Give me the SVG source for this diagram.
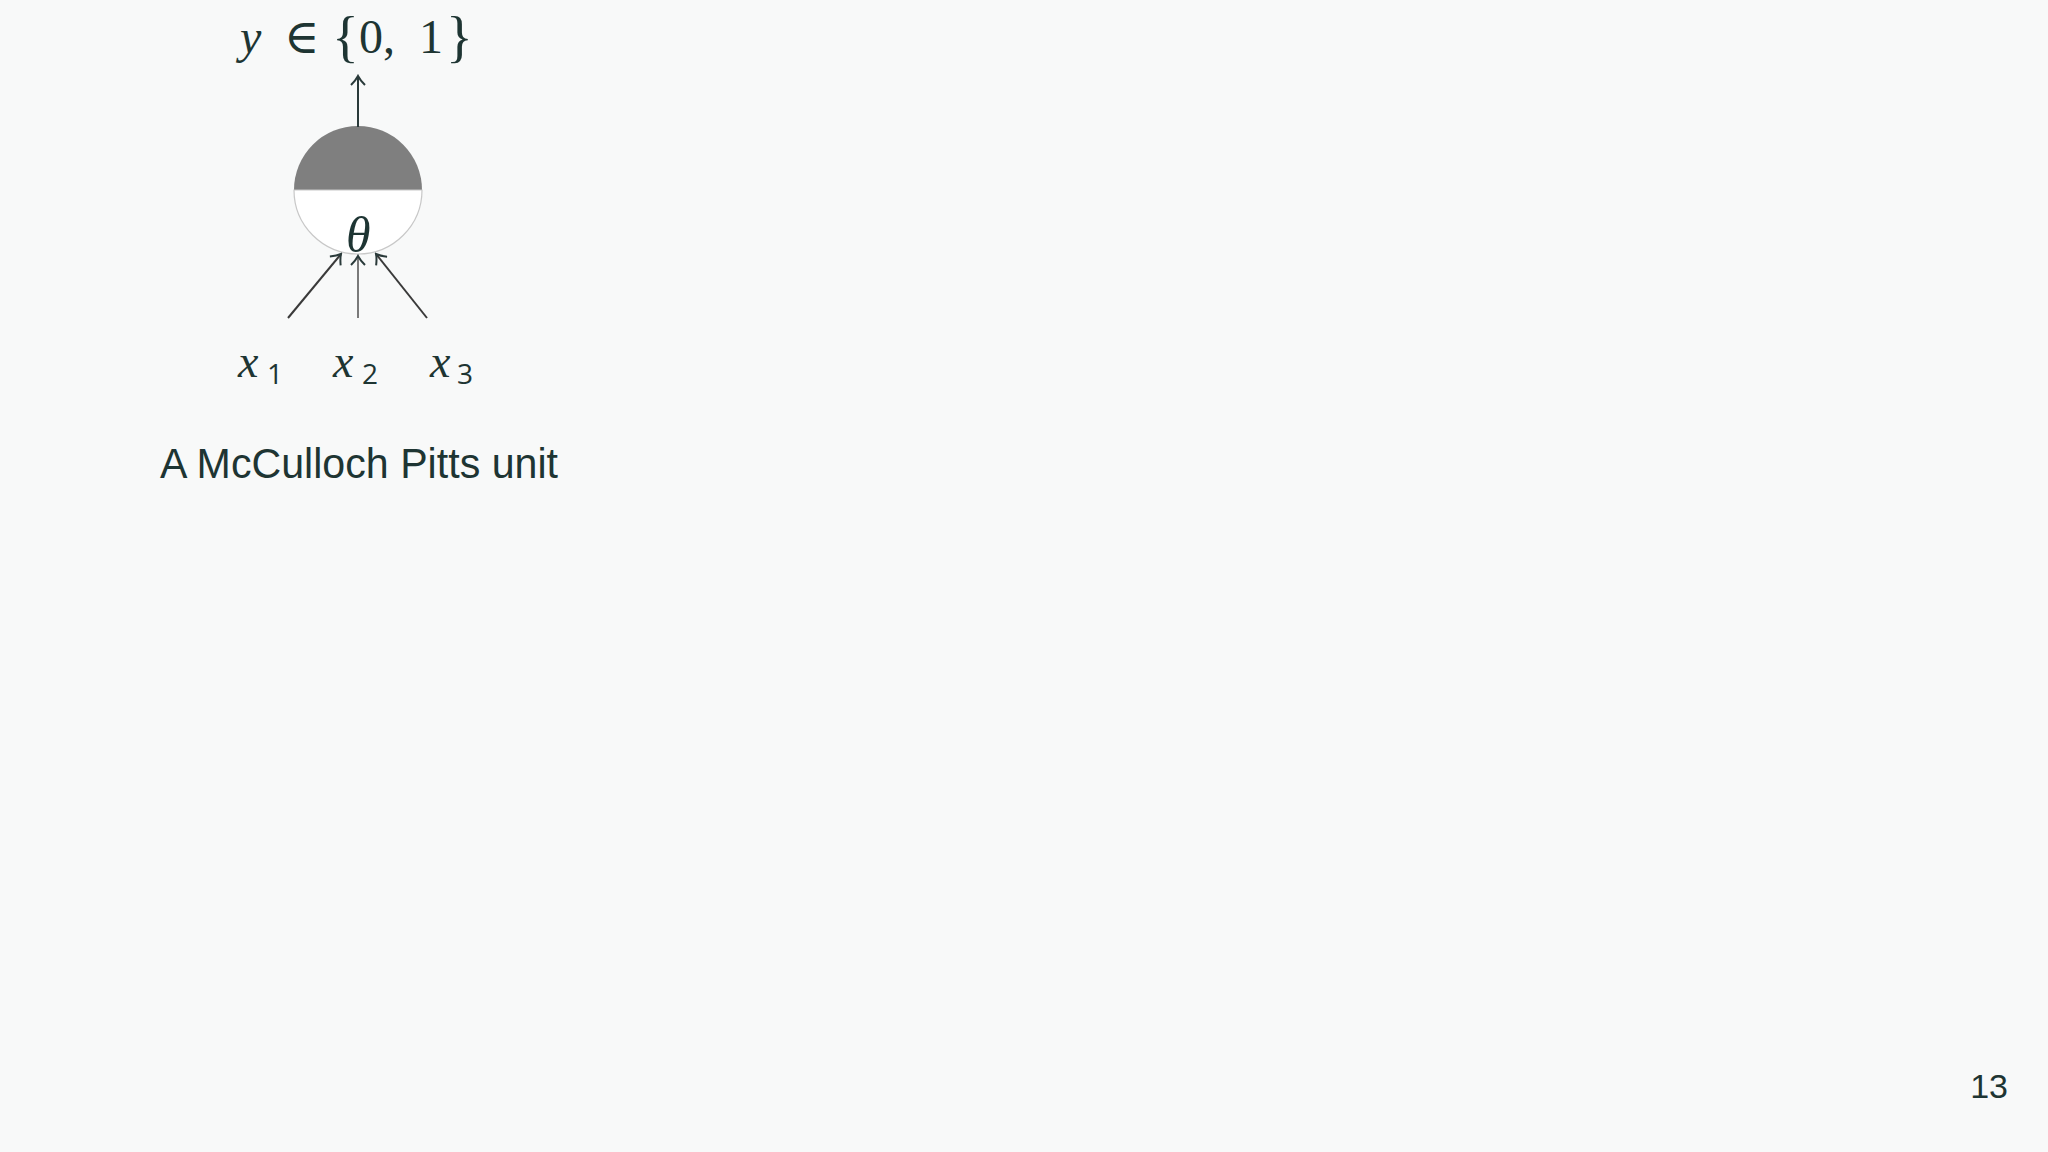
<svg xmlns="http://www.w3.org/2000/svg" width="2048" height="1152" viewBox="0 0 2048 1152">
<style>
.math{font-family:"Liberation Serif","DejaVu Serif",serif;fill:#1e3533}
.it{font-style:italic}
.sub{font-family:"Open Sans","Noto Sans",sans-serif;fill:#1e3533;font-size:28px}
.cap{font-family:"Liberation Sans",Arial,sans-serif;fill:#1e3533}
.edge{fill:none;stroke-width:2}
</style>
<defs>
<marker id="to" viewBox="-12 -8 14 16" markerWidth="14" markerHeight="16" refX="0" refY="0" orient="auto" markerUnits="userSpaceOnUse">
<path d="M-9,-7 C-5,-3 -2,-1 0,0 C-2,1 -5,3 -9,7" fill="none" stroke="#2a3a3a" stroke-width="2"/>
</marker>
</defs>
<rect width="2048" height="1152" fill="#f8f9f9"/>
<g id="output-label">
<text class="math" font-size="48" y="53"><tspan class="it" x="240">y</tspan><tspan x="284">∈</tspan><tspan x="332" font-size="56" dy="3">{</tspan><tspan x="359" dy="-3">0,</tspan><tspan x="419">1</tspan><tspan x="446" font-size="56" dy="3">}</tspan></text>
</g>
<g id="unit">
<path d="M294,190 A64,64 0 0 1 422,190 Z" fill="#7f7f7f"/>
<path d="M294,190 A64,64 0 0 0 422,190 Z" fill="#ffffff" stroke="#c8c8c8" stroke-width="1.2"/>
<text class="math it" font-size="50" x="346" y="252">θ</text>
</g>
<g id="inputs">
<text class="math it" font-size="46" x="238" y="377">x</text><text class="sub" x="267" y="384">1</text>
<text class="math it" font-size="46" x="333" y="377">x</text><text class="sub" x="362" y="384">2</text>
<text class="math it" font-size="46" x="430" y="377">x</text><text class="sub" x="457" y="384">3</text>
</g>
<g id="connectors">
<line class="edge" x1="358" y1="127" x2="358" y2="76" stroke="#2a3a3a" marker-end="url(#to)"/>
<line class="edge" x1="288" y1="318" x2="341" y2="254" stroke="#3a3a3a" marker-end="url(#to)"/>
<line class="edge" x1="358" y1="318" x2="358" y2="256" stroke="#7a7a7a" stroke-width="2.5" marker-end="url(#to)"/>
<line class="edge" x1="427" y1="318" x2="376" y2="254" stroke="#3a3a3a" marker-end="url(#to)"/>
</g>
<g id="caption">
<text class="cap" font-size="43" x="160" y="478" textLength="398" lengthAdjust="spacingAndGlyphs">A McCulloch Pitts unit</text>
</g>
<text class="cap" font-size="34" x="2008" y="1098" text-anchor="end">13</text>
</svg>
